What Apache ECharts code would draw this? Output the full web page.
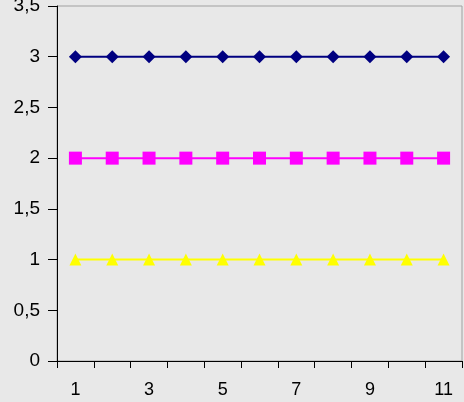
<!DOCTYPE html>
<html>
<head>
<meta charset="utf-8">
<script src="https://cdn.jsdelivr.net/npm/echarts@6/dist/echarts.min.js"></script>
<style>
  html, body { margin: 0; padding: 0; background: #e8e8e8; }
  #chart { width: 464px; height: 402px; }
</style>
</head>
<body>
<div id="chart"></div>
<script>
var categories = ['1', '2', '3', '4', '5', '6', '7', '8', '9', '10', '11'];
var seriesA = [3, 3, 3, 3, 3, 3, 3, 3, 3, 3, 3];
var seriesB = [2, 2, 2, 2, 2, 2, 2, 2, 2, 2, 2];
var seriesC = [1, 1, 1, 1, 1, 1, 1, 1, 1, 1, 1];

var chart = echarts.init(document.getElementById('chart'));

function lineSeries(data, color, symbol, size) {
  return {
    type: 'line',
    data: data,
    symbol: symbol,
    symbolSize: size,
    showAllSymbol: true,
    lineStyle: { color: color, width: 2 },
    itemStyle: { color: color },
    animation: false
  };
}

var option = {
  backgroundColor: '#e8e8e8',
  textStyle: { fontFamily: 'Liberation Sans, Arial, sans-serif' },
  grid: {
    left: 57,
    right: 2,
    top: 6,
    bottom: 41,
    outerBoundsMode: 'none',
    containLabel: false,
    show: true,
    borderColor: '#a0a0a0',
    borderWidth: 1,
    backgroundColor: '#e8e8e8'
  },
  xAxis: {
    type: 'category',
    data: categories,
    boundaryGap: true,
    axisLine: { lineStyle: { color: '#000', width: 1 } },
    axisTick: { show: true, interval: 0, length: 7, lineStyle: { color: '#000' } },
    axisLabel: { interval: 1, color: '#000', fontSize: 18, margin: 20 },
    splitLine: { show: false }
  },
  yAxis: {
    type: 'value',
    min: 0,
    max: 3.5,
    interval: 0.5,
    axisLine: { show: true, lineStyle: { color: '#000', width: 1 } },
    axisTick: { show: true, length: 9, inside: false, lineStyle: { color: '#000' } },
    axisLabel: {
      color: '#000',
      fontSize: 19,
      margin: 17,
      formatter: function (v) { return String(v).replace('.', ','); }
    },
    splitLine: { show: false }
  },
  series: [
    lineSeries(seriesA, '#000080', 'diamond', 13),
    lineSeries(seriesB, '#ff00ff', 'rect', 13),
    lineSeries(seriesC, '#ffff00', 'triangle', 12)
  ]
};

chart.setOption(option);
window.addEventListener('resize', function () {
  chart.resize();
});
</script>
</body>
</html>
